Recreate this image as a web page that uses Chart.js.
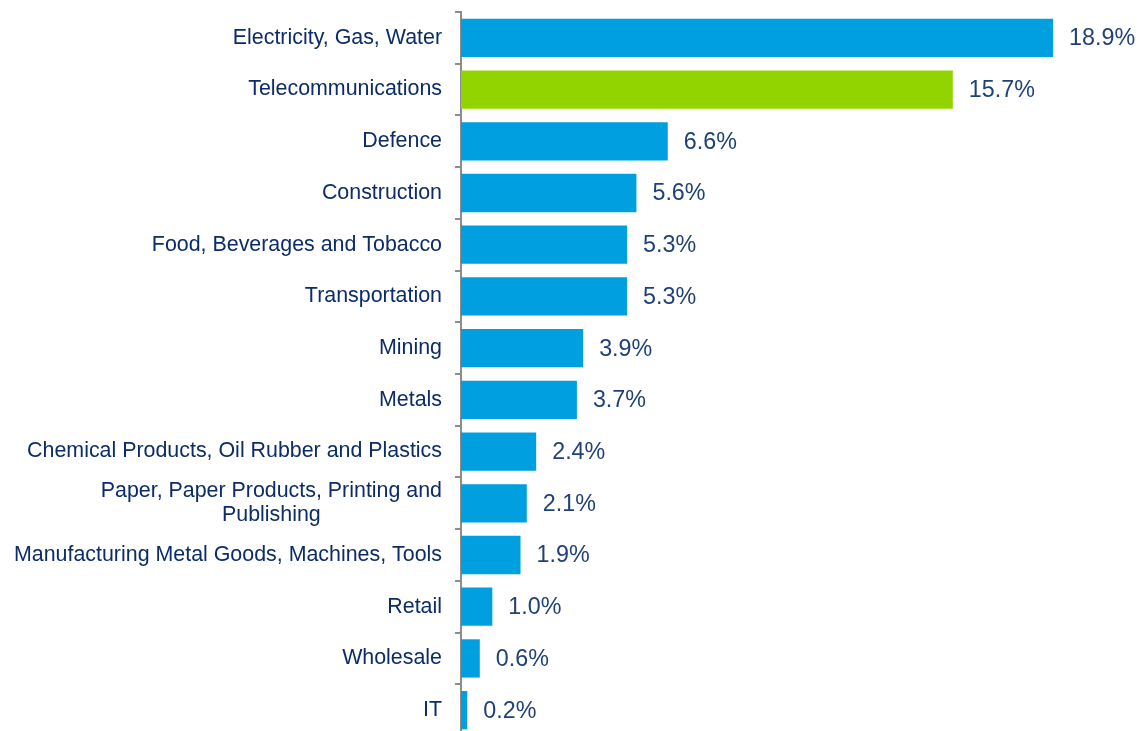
<!DOCTYPE html>
<html>
<head>
<meta charset="utf-8">
<script src="https://cdn.jsdelivr.net/npm/chart.js@4/dist/chart.umd.min.js"></script>
<style>
  html, body { margin: 0; padding: 0; background: #ffffff; overflow: hidden; width: 1142px; height: 731px; }
  canvas { display: block; }
</style>
</head>
<body>
<canvas id="c" width="1142" height="736"></canvas>
<script>
const categories = [
  "Electricity, Gas, Water",
  "Telecommunications",
  "Defence",
  "Construction",
  "Food, Beverages and Tobacco",
  "Transportation",
  "Mining",
  "Metals",
  "Chemical Products, Oil Rubber and Plastics",
  ["Paper, Paper Products, Printing and", "Publishing"],
  "Manufacturing Metal Goods, Machines, Tools",
  "Retail",
  "Wholesale",
  "IT"
];
const shares = [18.9, 15.7, 6.6, 5.6, 5.3, 5.3, 3.9, 3.7, 2.4, 2.1, 1.9, 1.0, 0.6, 0.2];
const highlighted = ["Telecommunications"];

const BLUE = "#009FDF";
const GREEN = "#92D400";
const barColors = categories.map(c => highlighted.includes(c) ? GREEN : BLUE);

const labelPlugin = {
  id: "labelPlugin",
  afterDatasetsDraw(chart) {
    const ctx = chart.ctx;
    const meta = chart.getDatasetMeta(0);
    const yScale = chart.scales.y;
    ctx.save();
    // value labels
    ctx.font = "23.3px 'Liberation Sans', Arial, sans-serif";
    ctx.fillStyle = "#1F4178";
    ctx.textAlign = "left";
    ctx.textBaseline = "middle";
    meta.data.forEach((bar, i) => {
      ctx.fillText(shares[i].toFixed(1) + "%", bar.x + 16, bar.y + 1);
    });
    // category labels
    ctx.font = "21.4px 'Liberation Sans', Arial, sans-serif";
    ctx.fillStyle = "#0C2C69";
    const rightX = yScale.right - 19;
    categories.forEach((c, i) => {
      const y = yScale.getPixelForValue(i);
      if (Array.isArray(c)) {
        const widths = c.map(l => ctx.measureText(l).width);
        const maxW = Math.max(...widths);
        const lh = 24;
        const startY = y - (c.length - 1) * lh / 2;
        ctx.textAlign = "center";
        c.forEach((l, k) => ctx.fillText(l, rightX - maxW / 2, startY + k * lh));
      } else {
        ctx.textAlign = "right";
        ctx.fillText(c, rightX, y);
      }
    });
    ctx.restore();
  }
};

new Chart(document.getElementById("c"), {
  type: "bar",
  data: {
    labels: categories,
    datasets: [{
      data: shares,
      backgroundColor: barColors,
      borderWidth: 0,
      barPercentage: 0.74,
      categoryPercentage: 1.0
    }]
  },
  options: {
    indexAxis: "y",
    responsive: false,
    animation: false,
    devicePixelRatio: 1,
    layout: { padding: { top: 12, right: 0, bottom: 0, left: 0 } },
    plugins: { legend: { display: false }, tooltip: { enabled: false } },
    scales: {
      x: { display: false, min: 0, max: 21.74 },
      y: {
        display: true,
        afterFit(scale) { scale.width = 461; },
        grid: {
          display: true,
          offset: true,
          drawOnChartArea: false,
          drawTicks: true,
          tickLength: 6,
          color: "#8C8C8C",
          lineWidth: 2
        },
        border: { display: true, color: "#8C8C8C", width: 2 },
        ticks: { display: false, autoSkip: false }
      }
    }
  },
  plugins: [labelPlugin]
});
</script>
</body>
</html>
